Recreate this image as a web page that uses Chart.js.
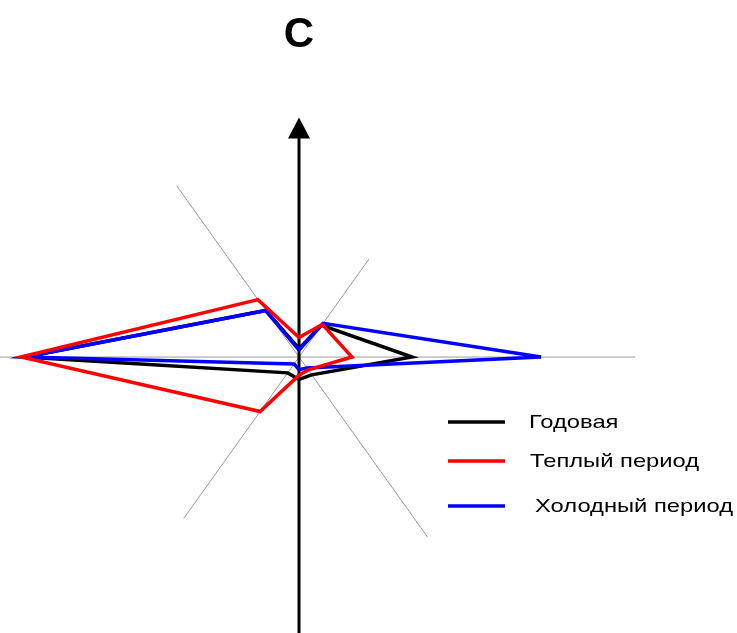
<!DOCTYPE html>
<html>
<head>
<meta charset="utf-8">
<script src="https://cdn.jsdelivr.net/npm/chart.js@4.4.0/dist/chart.umd.min.js"></script>
<style>
    html, body { margin: 0; padding: 0; background: #ffffff; }
    #wrap { width: 737px; height: 633px; }
</style>
</head>
<body>
<div id="wrap"><canvas id="roseChart"></canvas></div>
<script>
// ==================== Роза ветров: данные ====================
// румбы по часовой стрелке, начиная с севера
const directions = ['С', 'СВ', 'В', 'ЮВ', 'Ю', 'ЮЗ', 'З', 'СЗ'];
const seriesNames = ['Годовая', 'Теплый период', 'Холодный период'];
const annualValues = [0.6, 3.2, 11.3, 1.8, 1.6, 1.6, 27.4, 4.7];
const warmValues = [1.4, 3.3, 5.3, 1.3, 1.3, 5.5, 27.8, 5.8];
const coldValues = [0.5, 3.4, 24.2, 1.1, 0.9, 0.7, 27.4, 4.7];

// перевод значения по румбу в точку x/y (север вверх)
function toRosePoints(values) {
    const pts = values.map((v, i) => {
        const a = i * Math.PI / 4;
        return { x: v * Math.sin(a), y: v * Math.cos(a) };
    });
    pts.push(pts[0]); // замыкаем многоугольник
    return pts;
}

// оси розы: тонкие серые лучи, вертикаль со стрелкой и подпись севера
const roseAxes = {
    id: 'roseAxes',
    beforeDatasetsDraw(chart, args, opts) {
        const { ctx, scales: { x, y } } = chart;
        const px = (r, i) => {
            const a = i * Math.PI / 4;
            return [x.getPixelForValue(r * Math.sin(a)), y.getPixelForValue(r * Math.cos(a))];
        };
        const [cx, cy] = px(0, 0);
        ctx.save();
        ctx.strokeStyle = '#9a9a9a';
        ctx.lineWidth = 1;
        opts.lengths.forEach((len, i) => {
            if (i % 4 === 0) return;
            const [ex, ey] = px(len, i);
            ctx.beginPath();
            ctx.moveTo(cx, cy);
            ctx.lineTo(ex, ey);
            ctx.stroke();
        });
        // ось север-юг
        const [nx, ny] = px(opts.lengths[0], 0);
        const [sx, sy] = px(opts.lengths[4], 4);
        ctx.strokeStyle = '#000000';
        ctx.lineWidth = 3;
        ctx.beginPath();
        ctx.moveTo(sx, sy);
        ctx.lineTo(nx, ny + 10);
        ctx.stroke();
        ctx.fillStyle = '#000000';
        ctx.beginPath();
        ctx.moveTo(nx, ny);
        ctx.lineTo(nx - 11, ny + 21);
        ctx.lineTo(nx + 11, ny + 21);
        ctx.closePath();
        ctx.fill();
        // подпись "С" над стрелкой
        ctx.font = 'bold 42px "Liberation Sans", Arial, sans-serif';
        ctx.textAlign = 'center';
        ctx.textBaseline = 'middle';
        ctx.fillText(directions[0], cx, opts.labelY);
        ctx.restore();
    }
};

// легенда внутри области графика
const roseLegend = {
    id: 'roseLegend',
    afterDatasetsDraw(chart, args, opts) {
        const ctx = chart.ctx;
        ctx.save();
        chart.data.datasets.forEach((ds, i) => {
            const row = opts.rows[i];
            ctx.strokeStyle = ds.borderColor;
            ctx.lineWidth = 3.5;
            ctx.beginPath();
            ctx.moveTo(opts.lineX1, row.y);
            ctx.lineTo(opts.lineX2, row.y);
            ctx.stroke();
            ctx.save();
            ctx.translate(row.textX, row.y);
            ctx.scale(opts.stretch, 1);
            ctx.fillStyle = '#000000';
            ctx.font = '19px "Liberation Sans", Arial, sans-serif';
            ctx.textBaseline = 'middle';
            ctx.fillText(ds.label, 0, 1);
            ctx.restore();
        });
        ctx.restore();
    }
};

const allValues = [annualValues, warmValues, coldValues];
const lineColors = ['#000000', '#ff0000', '#0000ff'];
const drawOrder = [2, 0, 1]; // красная сверху, затем синяя, черная снизу

const ctx = document.getElementById('roseChart').getContext('2d');
new Chart(ctx, {
    type: 'scatter',
    data: {
        datasets: seriesNames.map((name, i) => ({
            label: name,
            data: toRosePoints(allValues[i]),
            showLine: true,
            borderColor: lineColors[i],
            backgroundColor: lineColors[i],
            borderWidth: 3.5,
            borderCapStyle: 'round',
            borderJoinStyle: 'miter',
            pointRadius: 0,
            pointHoverRadius: 0,
            tension: 0,
            order: drawOrder[i]
        }))
    },
    plugins: [roseAxes, roseLegend],
    options: {
        responsive: true,
        maintainAspectRatio: false,
        animation: false,
        events: [],
        layout: { padding: 0 },
        scales: {
            x: { type: 'linear', display: false, min: -29.9, max: 43.8 },
            y: { type: 'linear', display: false, min: -19.71, max: 25.5 }
        },
        plugins: {
            legend: { display: false },
            tooltip: { enabled: false },
            title: { display: false },
            roseAxes: { lengths: [17.1, 9.9, 33.6, 18.2, 21, 16.3, 31, 17.3], labelY: 35 },
            roseLegend: {
                lineX1: 448,
                lineX2: 505,
                stretch: 1.25,
                rows: [
                    { y: 422, textX: 529 },
                    { y: 461, textX: 530 },
                    { y: 506, textX: 535 }
                ]
            }
        }
    }
});
</script>
</body>
</html>
